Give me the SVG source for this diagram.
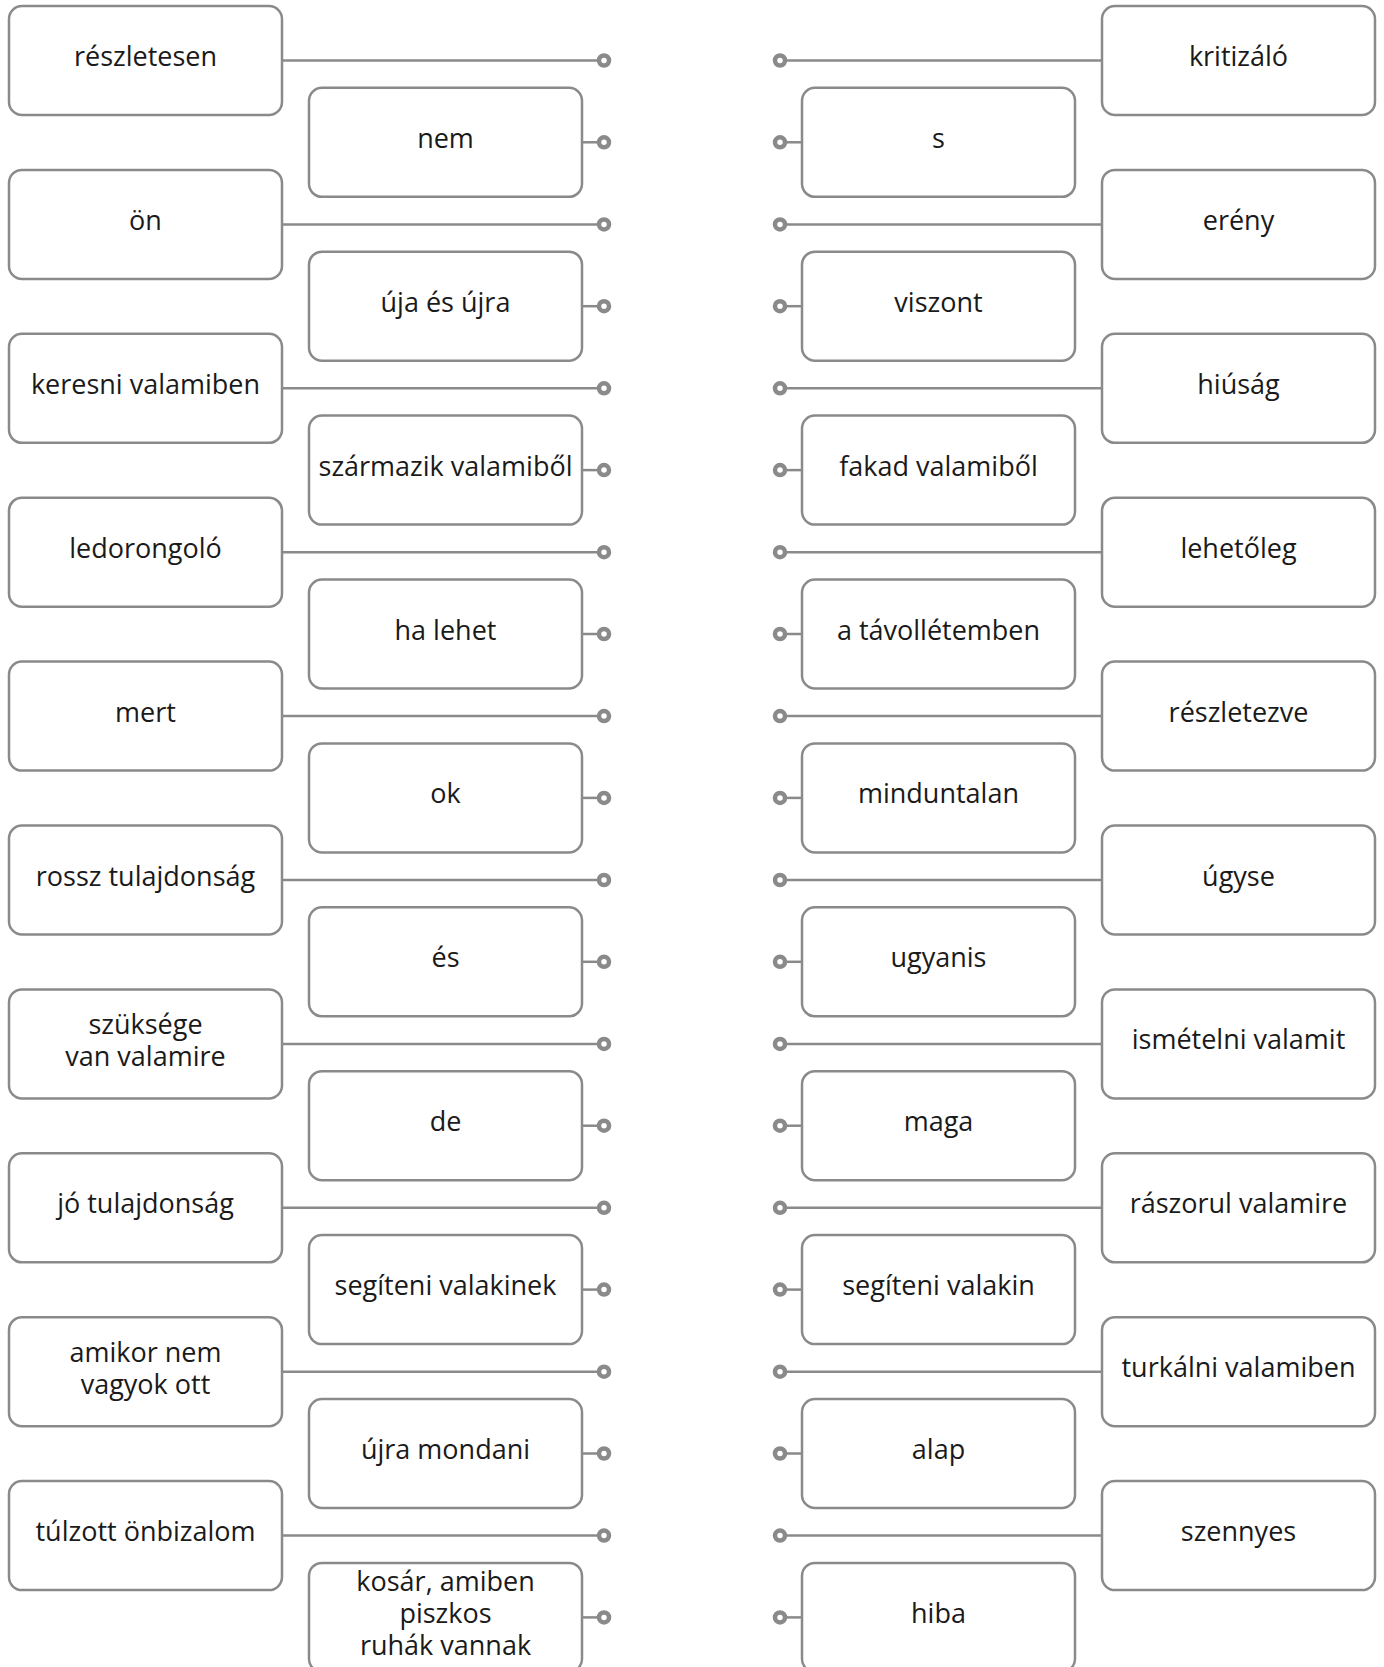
<svg xmlns="http://www.w3.org/2000/svg" width="1384" height="1667" viewBox="0 0 1384 1667">
<style>
.box{fill:#fff;stroke:#8a8a8a;stroke-width:2.5}
.ln{stroke:#8a8a8a;stroke-width:2.5;fill:none}
.dot{fill:#fff;stroke:#8a8a8a;stroke-width:4.5}
text{font-family:"Open Sans","Noto Sans","Liberation Sans",sans-serif;font-size:27px;fill:#1a1a1a;text-anchor:middle}
</style>
<rect width="1384" height="1667" fill="#fff"/>
<g id="connectors">
<line class="ln" x1="282" y1="60.5" x2="604" y2="60.5"/><line class="ln" x1="582" y1="142.3" x2="604" y2="142.3"/>
<line class="ln" x1="282" y1="224.4" x2="604" y2="224.4"/><line class="ln" x1="582" y1="306.2" x2="604" y2="306.2"/>
<line class="ln" x1="282" y1="388.3" x2="604" y2="388.3"/><line class="ln" x1="582" y1="470.1" x2="604" y2="470.1"/>
<line class="ln" x1="282" y1="552.2" x2="604" y2="552.2"/><line class="ln" x1="582" y1="634" x2="604" y2="634"/>
<line class="ln" x1="282" y1="716.1" x2="604" y2="716.1"/><line class="ln" x1="582" y1="797.9" x2="604" y2="797.9"/>
<line class="ln" x1="282" y1="880" x2="604" y2="880"/><line class="ln" x1="582" y1="961.8" x2="604" y2="961.8"/>
<line class="ln" x1="282" y1="1043.9" x2="604" y2="1043.9"/><line class="ln" x1="582" y1="1125.7" x2="604" y2="1125.7"/>
<line class="ln" x1="282" y1="1207.8" x2="604" y2="1207.8"/><line class="ln" x1="582" y1="1289.6" x2="604" y2="1289.6"/>
<line class="ln" x1="282" y1="1371.7" x2="604" y2="1371.7"/><line class="ln" x1="582" y1="1453.5" x2="604" y2="1453.5"/>
<line class="ln" x1="282" y1="1535.6" x2="604" y2="1535.6"/><line class="ln" x1="582" y1="1617.4" x2="604" y2="1617.4"/>
<line class="ln" x1="780" y1="60.5" x2="1102" y2="60.5"/><line class="ln" x1="780" y1="142.3" x2="802" y2="142.3"/>
<line class="ln" x1="780" y1="224.4" x2="1102" y2="224.4"/><line class="ln" x1="780" y1="306.2" x2="802" y2="306.2"/>
<line class="ln" x1="780" y1="388.3" x2="1102" y2="388.3"/><line class="ln" x1="780" y1="470.1" x2="802" y2="470.1"/>
<line class="ln" x1="780" y1="552.2" x2="1102" y2="552.2"/><line class="ln" x1="780" y1="634" x2="802" y2="634"/>
<line class="ln" x1="780" y1="716.1" x2="1102" y2="716.1"/><line class="ln" x1="780" y1="797.9" x2="802" y2="797.9"/>
<line class="ln" x1="780" y1="880" x2="1102" y2="880"/><line class="ln" x1="780" y1="961.8" x2="802" y2="961.8"/>
<line class="ln" x1="780" y1="1043.9" x2="1102" y2="1043.9"/><line class="ln" x1="780" y1="1125.7" x2="802" y2="1125.7"/>
<line class="ln" x1="780" y1="1207.8" x2="1102" y2="1207.8"/><line class="ln" x1="780" y1="1289.6" x2="802" y2="1289.6"/>
<line class="ln" x1="780" y1="1371.7" x2="1102" y2="1371.7"/><line class="ln" x1="780" y1="1453.5" x2="802" y2="1453.5"/>
<line class="ln" x1="780" y1="1535.6" x2="1102" y2="1535.6"/><line class="ln" x1="780" y1="1617.4" x2="802" y2="1617.4"/>
<circle class="dot" cx="604" cy="60.5" r="5"/><circle class="dot" cx="604" cy="142.3" r="5"/>
<circle class="dot" cx="604" cy="224.4" r="5"/><circle class="dot" cx="604" cy="306.2" r="5"/>
<circle class="dot" cx="604" cy="388.3" r="5"/><circle class="dot" cx="604" cy="470.1" r="5"/>
<circle class="dot" cx="604" cy="552.2" r="5"/><circle class="dot" cx="604" cy="634" r="5"/>
<circle class="dot" cx="604" cy="716.1" r="5"/><circle class="dot" cx="604" cy="797.9" r="5"/>
<circle class="dot" cx="604" cy="880" r="5"/><circle class="dot" cx="604" cy="961.8" r="5"/>
<circle class="dot" cx="604" cy="1043.9" r="5"/><circle class="dot" cx="604" cy="1125.7" r="5"/>
<circle class="dot" cx="604" cy="1207.8" r="5"/><circle class="dot" cx="604" cy="1289.6" r="5"/>
<circle class="dot" cx="604" cy="1371.7" r="5"/><circle class="dot" cx="604" cy="1453.5" r="5"/>
<circle class="dot" cx="604" cy="1535.6" r="5"/><circle class="dot" cx="604" cy="1617.4" r="5"/>
<circle class="dot" cx="780" cy="60.5" r="5"/><circle class="dot" cx="780" cy="142.3" r="5"/>
<circle class="dot" cx="780" cy="224.4" r="5"/><circle class="dot" cx="780" cy="306.2" r="5"/>
<circle class="dot" cx="780" cy="388.3" r="5"/><circle class="dot" cx="780" cy="470.1" r="5"/>
<circle class="dot" cx="780" cy="552.2" r="5"/><circle class="dot" cx="780" cy="634" r="5"/>
<circle class="dot" cx="780" cy="716.1" r="5"/><circle class="dot" cx="780" cy="797.9" r="5"/>
<circle class="dot" cx="780" cy="880" r="5"/><circle class="dot" cx="780" cy="961.8" r="5"/>
<circle class="dot" cx="780" cy="1043.9" r="5"/><circle class="dot" cx="780" cy="1125.7" r="5"/>
<circle class="dot" cx="780" cy="1207.8" r="5"/><circle class="dot" cx="780" cy="1289.6" r="5"/>
<circle class="dot" cx="780" cy="1371.7" r="5"/><circle class="dot" cx="780" cy="1453.5" r="5"/>
<circle class="dot" cx="780" cy="1535.6" r="5"/><circle class="dot" cx="780" cy="1617.4" r="5"/>
</g>
<g id="L0"><rect class="box" x="9" y="6" width="273" height="109" rx="13"/><text x="145.5" y="66">részletesen</text></g>
<g id="L1"><rect class="box" x="9" y="169.9" width="273" height="109" rx="13"/><text x="145.5" y="229.9">ön</text></g>
<g id="L2"><rect class="box" x="9" y="333.8" width="273" height="109" rx="13"/><text x="145.5" y="393.8">keresni valamiben</text></g>
<g id="L3"><rect class="box" x="9" y="497.7" width="273" height="109" rx="13"/><text x="145.5" y="557.7">ledorongoló</text></g>
<g id="L4"><rect class="box" x="9" y="661.6" width="273" height="109" rx="13"/><text x="145.5" y="721.6">mert</text></g>
<g id="L5"><rect class="box" x="9" y="825.5" width="273" height="109" rx="13"/><text x="145.5" y="885.5">rossz tulajdonság</text></g>
<g id="L6"><rect class="box" x="9" y="989.4" width="273" height="109" rx="13"/><text x="145.5" y="1033.9">szüksége<tspan x="145.5" dy="32">van valamire</tspan></text></g>
<g id="L7"><rect class="box" x="9" y="1153.3" width="273" height="109" rx="13"/><text x="145.5" y="1213.3">jó tulajdonság</text></g>
<g id="L8"><rect class="box" x="9" y="1317.2" width="273" height="109" rx="13"/><text x="145.5" y="1361.7">amikor nem<tspan x="145.5" dy="32">vagyok ott</tspan></text></g>
<g id="L9"><rect class="box" x="9" y="1481.1" width="273" height="109" rx="13"/><text x="145.5" y="1541.1">túlzott önbizalom</text></g>
<g id="M0"><rect class="box" x="309" y="87.8" width="273" height="109" rx="13"/><text x="445.5" y="147.8">nem</text></g>
<g id="M1"><rect class="box" x="309" y="251.7" width="273" height="109" rx="13"/><text x="445.5" y="311.7">úja és újra</text></g>
<g id="M2"><rect class="box" x="309" y="415.6" width="273" height="109" rx="13"/><text x="445.5" y="475.6">származik valamiből</text></g>
<g id="M3"><rect class="box" x="309" y="579.5" width="273" height="109" rx="13"/><text x="445.5" y="639.5">ha lehet</text></g>
<g id="M4"><rect class="box" x="309" y="743.4" width="273" height="109" rx="13"/><text x="445.5" y="803.4">ok</text></g>
<g id="M5"><rect class="box" x="309" y="907.3" width="273" height="109" rx="13"/><text x="445.5" y="967.3">és</text></g>
<g id="M6"><rect class="box" x="309" y="1071.2" width="273" height="109" rx="13"/><text x="445.5" y="1131.2">de</text></g>
<g id="M7"><rect class="box" x="309" y="1235.1" width="273" height="109" rx="13"/><text x="445.5" y="1295.1">segíteni valakinek</text></g>
<g id="M8"><rect class="box" x="309" y="1399" width="273" height="109" rx="13"/><text x="445.5" y="1459">újra mondani</text></g>
<g id="M9"><rect class="box" x="309" y="1562.9" width="273" height="109" rx="13"/><text x="445.5" y="1590.9">kosár, amiben<tspan x="445.5" dy="32">piszkos</tspan><tspan x="445.5" dy="32">ruhák vannak</tspan></text></g>
<g id="N0"><rect class="box" x="802" y="87.8" width="273" height="109" rx="13"/><text x="938.5" y="147.8">s</text></g>
<g id="N1"><rect class="box" x="802" y="251.7" width="273" height="109" rx="13"/><text x="938.5" y="311.7">viszont</text></g>
<g id="N2"><rect class="box" x="802" y="415.6" width="273" height="109" rx="13"/><text x="938.5" y="475.6">fakad valamiből</text></g>
<g id="N3"><rect class="box" x="802" y="579.5" width="273" height="109" rx="13"/><text x="938.5" y="639.5">a távollétemben</text></g>
<g id="N4"><rect class="box" x="802" y="743.4" width="273" height="109" rx="13"/><text x="938.5" y="803.4">minduntalan</text></g>
<g id="N5"><rect class="box" x="802" y="907.3" width="273" height="109" rx="13"/><text x="938.5" y="967.3">ugyanis</text></g>
<g id="N6"><rect class="box" x="802" y="1071.2" width="273" height="109" rx="13"/><text x="938.5" y="1131.2">maga</text></g>
<g id="N7"><rect class="box" x="802" y="1235.1" width="273" height="109" rx="13"/><text x="938.5" y="1295.1">segíteni valakin</text></g>
<g id="N8"><rect class="box" x="802" y="1399" width="273" height="109" rx="13"/><text x="938.5" y="1459">alap</text></g>
<g id="N9"><rect class="box" x="802" y="1562.9" width="273" height="109" rx="13"/><text x="938.5" y="1622.9">hiba</text></g>
<g id="R0"><rect class="box" x="1102" y="6" width="273" height="109" rx="13"/><text x="1238.5" y="66">kritizáló</text></g>
<g id="R1"><rect class="box" x="1102" y="169.9" width="273" height="109" rx="13"/><text x="1238.5" y="229.9">erény</text></g>
<g id="R2"><rect class="box" x="1102" y="333.8" width="273" height="109" rx="13"/><text x="1238.5" y="393.8">hiúság</text></g>
<g id="R3"><rect class="box" x="1102" y="497.7" width="273" height="109" rx="13"/><text x="1238.5" y="557.7">lehetőleg</text></g>
<g id="R4"><rect class="box" x="1102" y="661.6" width="273" height="109" rx="13"/><text x="1238.5" y="721.6">részletezve</text></g>
<g id="R5"><rect class="box" x="1102" y="825.5" width="273" height="109" rx="13"/><text x="1238.5" y="885.5">úgyse</text></g>
<g id="R6"><rect class="box" x="1102" y="989.4" width="273" height="109" rx="13"/><text x="1238.5" y="1049.4">ismételni valamit</text></g>
<g id="R7"><rect class="box" x="1102" y="1153.3" width="273" height="109" rx="13"/><text x="1238.5" y="1213.3">rászorul valamire</text></g>
<g id="R8"><rect class="box" x="1102" y="1317.2" width="273" height="109" rx="13"/><text x="1238.5" y="1377.2">turkálni valamiben</text></g>
<g id="R9"><rect class="box" x="1102" y="1481.1" width="273" height="109" rx="13"/><text x="1238.5" y="1541.1">szennyes</text></g>
</svg>
